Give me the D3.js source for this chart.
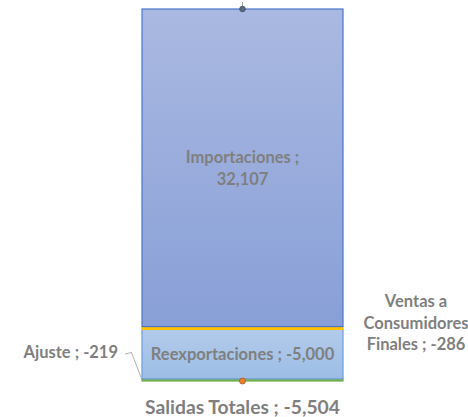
<!DOCTYPE html>
<html>
<head>
<meta charset="utf-8">
<script src="https://cdn.jsdelivr.net/npm/d3@7"></script>
<style>
  body { margin: 0; background: #fff; }
  text { font-family: Lato, "Open Sans", sans-serif; font-weight: bold; fill: #7f7f7f; }
</style>
</head>
<body>
<svg id="chart"></svg>
<script>
const categories = ["Ajuste", "Reexportaciones", "Ventas a Consumidores Finales", "Importaciones"];
const values = [-219, -5000, -286, 32107];
const totalLabel = "Salidas Totales";
const totalValue = -5504;

const margin = { top: 9, right: 125, bottom: 36, left: 142 },
  width = 468 - margin.left - margin.right,
  height = 417 - margin.top - margin.bottom;

const svg = d3
  .select("#chart")
  .attr("width", 468)
  .attr("height", 417)
  .append("g")
  .attr("transform", `translate(${margin.left},${margin.top})`);

const fmt = (v) => d3.format(",")(v).replace("\u2212", "-");

// apilar desde abajo con los tamaños absolutos
let acc = 0;
const segs = categories.map((c, i) => {
  const s = { name: c, value: values[i], y0: acc, y1: acc + Math.abs(values[i]) };
  acc = s.y1;
  return s;
});

const y = d3.scaleLinear().domain([0, acc]).range([height, 0]);
const x = d3.scaleBand().domain(["col"]).range([0, width]).padding(0);

const defs = svg.append("defs");
const grads = [
  { id: "g0", top: "#8fc06a", bot: "#6aa944" },
  { id: "g1", top: "#b3cbea", bot: "#9cbde6" },
  { id: "g2", top: "#ffc000", bot: "#ffc000" },
  { id: "g3", top: "#aab9e1", bot: "#889fd7" },
];
grads.forEach((g) => {
  const lg = defs.append("linearGradient").attr("id", g.id)
    .attr("x1", "0").attr("x2", "0").attr("y1", "0").attr("y2", "1");
  lg.append("stop").attr("offset", "0%").attr("stop-color", g.top);
  lg.append("stop").attr("offset", "100%").attr("stop-color", g.bot);
});
const strokes = ["#70ad47", "#6a9fd8", "#ffc000", "#4a76c8"];

svg.selectAll("rect.seg")
  .data(segs)
  .enter()
  .append("rect")
  .attr("class", "seg")
  .attr("x", x("col"))
  .attr("width", x.bandwidth())
  .attr("y", (d) => y(d.y1))
  .attr("height", (d) => y(d.y0) - y(d.y1))
  .attr("fill", (d, i) => `url(#g${i})`)
  .attr("stroke", (d, i) => strokes[i])
  .attr("stroke-width", 1.2);

const cx = x("col") + x.bandwidth() / 2;

// Importaciones
const imp = segs[3];
const impMid = (y(imp.y0) + y(imp.y1)) / 2;
const t1 = svg.append("text").attr("text-anchor", "middle").attr("font-size", "16.5px")
  .attr("x", cx).attr("y", impMid - 4.5);
t1.append("tspan").attr("x", cx).attr("dy", 0).text(`${imp.name} ;`);
t1.append("tspan").attr("x", cx).attr("dy", 22).text(fmt(imp.value));

// Reexportaciones
const re = segs[1];
svg.append("text").attr("text-anchor", "middle").attr("font-size", "16.5px")
  .attr("x", cx).attr("y", (y(re.y0) + y(re.y1)) / 2 + 6)
  .text(`${re.name} ; ${fmt(re.value)}`);

// Ventas (derecha)
const ve = segs[2];
const vx = width + 73;
const vt = svg.append("text").attr("text-anchor", "middle").attr("font-size", "16.5px")
  .attr("x", vx).attr("y", 298);
["Ventas a", "Consumidores", `Finales ; ${fmt(ve.value)}`].forEach((l, i) =>
  vt.append("tspan").attr("x", vx).attr("dy", i ? 21.7 : 0).text(l));

// Ajuste con línea guía
const aj = segs[0];
svg.append("text").attr("text-anchor", "end").attr("font-size", "16.5px")
  .attr("x", -24).attr("y", 349)
  .text(`${aj.name} ; ${fmt(aj.value)}`);
svg.append("path")
  .attr("d", `M-17,345L-10.5,343.5L0,${y((aj.y0 + aj.y1) / 2)}`)
  .attr("fill", "none").attr("stroke", "#a6a6a6").attr("stroke-width", 0.9);

// marcador superior
svg.append("line").attr("x1", cx).attr("x2", cx).attr("y1", -7).attr("y2", 0)
  .attr("stroke", "#a6a6a6").attr("stroke-width", 1);
svg.append("circle").attr("cx", cx).attr("cy", y(acc)).attr("r", 2.8)
  .attr("fill", "#5c6b80").attr("stroke", "#3e4a5c").attr("stroke-width", 0.8);

// marcador inferior
svg.append("circle").attr("cx", cx).attr("cy", y(0)).attr("r", 3)
  .attr("fill", "#ed7d31").attr("stroke", "#a65a2a").attr("stroke-width", 0.8);

// total
svg.append("text").attr("text-anchor", "middle").attr("font-size", "19.3px")
  .attr("x", cx).attr("y", height + 33)
  .text(`${totalLabel} ; ${fmt(totalValue)}`);
</script>
</body>
</html>
